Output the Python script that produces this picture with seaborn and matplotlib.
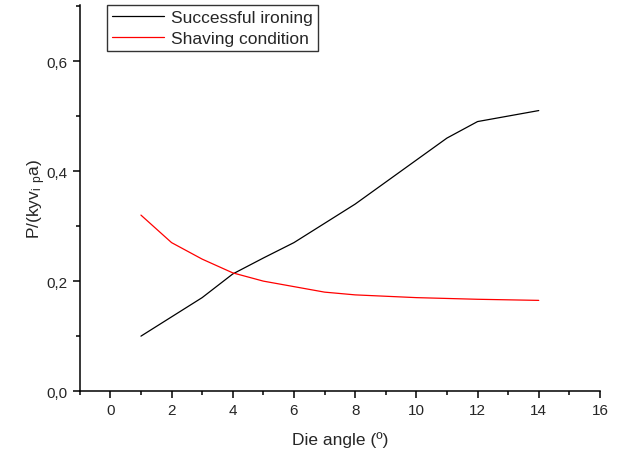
import pandas as pd
import matplotlib
matplotlib.use('Agg')
import matplotlib.pyplot as plt
import seaborn as sns
from matplotlib.ticker import MultipleLocator, FixedLocator, FixedFormatter

# Datos
angulo_ironing = [1, 2, 3, 4, 5, 6, 7, 8, 9, 10, 11, 12, 14]
p_ironing = [0.10, 0.135, 0.17, 0.213, 0.242, 0.27, 0.305, 0.34, 0.38, 0.42, 0.46, 0.49, 0.51]

angulo_shaving = [1, 2, 3, 4, 5, 6, 7, 8, 10, 12, 14]
p_shaving = [0.32, 0.27, 0.24, 0.215, 0.20, 0.19, 0.18, 0.175, 0.17, 0.167, 0.165]

x_ticks = [0, 2, 4, 6, 8, 10, 12, 14, 16]
y_ticks = [0.0, 0.2, 0.4, 0.6]
y_ticklabels = ['0,0', '0,2', '0,4', '0,6']

sns.set_style('ticks')
plt.rcParams['font.family'] = ['Liberation Sans', 'DejaVu Sans']
plt.rcParams['mathtext.default'] = 'regular'

df_ironing = pd.DataFrame({'x': angulo_ironing, 'y': p_ironing})
df_shaving = pd.DataFrame({'x': angulo_shaving, 'y': p_shaving})

fig = plt.figure(figsize=(6.23, 4.56), dpi=100)
ax = fig.add_axes([0.128, 0.140, 0.835, 0.847])

sns.lineplot(x='x', y='y', data=df_ironing, color='black', linewidth=0.9,
             label='Successful ironing', ax=ax)
sns.lineplot(x='x', y='y', data=df_shaving, color='red', linewidth=0.9,
             label='Shaving condition', ax=ax)

ax.set_xlim(-1, 16)
ax.set_ylim(0, 0.702)
ax.xaxis.set_major_locator(FixedLocator(x_ticks))
ax.xaxis.set_minor_locator(MultipleLocator(1))
ax.yaxis.set_major_locator(FixedLocator(y_ticks))
ax.yaxis.set_major_formatter(FixedFormatter(y_ticklabels))
ax.yaxis.set_minor_locator(MultipleLocator(0.1))

ax.tick_params(which='major', direction='out', length=5, width=1.1, labelsize=11, color='black')
ax.tick_params(which='minor', direction='out', length=3, width=1.1, color='black')

for s in ['top', 'right']:
    ax.spines[s].set_visible(False)
for s in ['left', 'bottom']:
    ax.spines[s].set_linewidth(1.1)
    ax.spines[s].set_color('black')

ax.set_xlabel('Die angle (º)', fontsize=12.5, labelpad=10)
ax.set_ylabel('P/(kyv$_{i}$ $_{p}$a)', fontsize=12.5, labelpad=-1)

leg = ax.legend(loc='upper left', bbox_to_anchor=(0.052, 1.0), borderaxespad=0,
                fontsize=12.5, frameon=True, fancybox=False, handlelength=3.0,
                handletextpad=0.4, labelspacing=0.3, borderpad=0.3)
leg.get_frame().set_edgecolor('black')
leg.get_frame().set_linewidth(1.0)

fig.savefig('out.png', dpi=100)
